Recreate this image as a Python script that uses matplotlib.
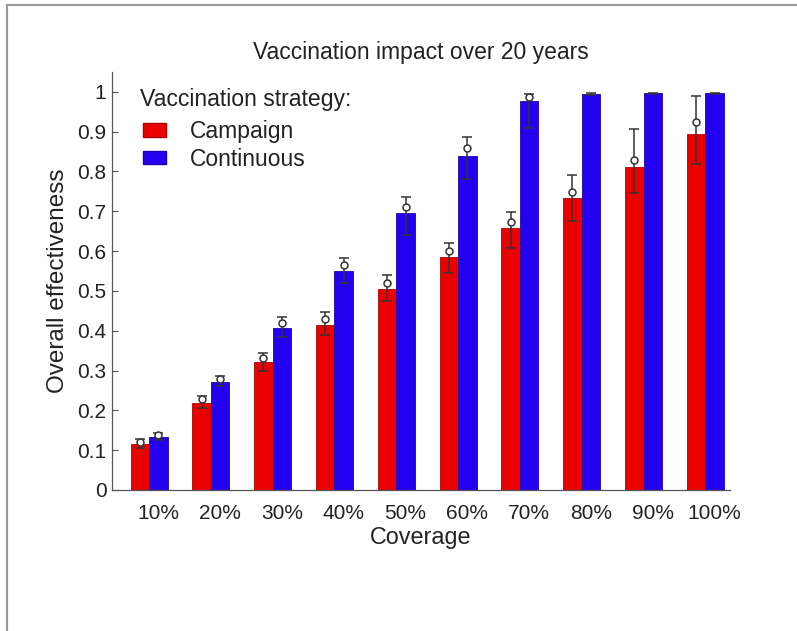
import numpy as np
import matplotlib
matplotlib.use("Agg")
import matplotlib.pyplot as plt
from matplotlib.patches import Patch
from matplotlib.lines import Line2D

plt.rcParams['font.family'] = ['Liberation Sans', 'DejaVu Sans']

# coverage levels
coverage = ['10%', '20%', '30%', '40%', '50%', '60%', '70%', '80%', '90%', '100%']

# campaign strategy: bar height, marker (circle) value, error range
campaign = [0.116, 0.219, 0.322, 0.415, 0.505, 0.585, 0.658, 0.733, 0.811, 0.894]
campaign_mark = [0.120, 0.228, 0.332, 0.430, 0.520, 0.600, 0.672, 0.748, 0.830, 0.925]
campaign_lo = [0.105, 0.205, 0.300, 0.390, 0.475, 0.545, 0.607, 0.675, 0.746, 0.820]
campaign_hi = [0.127, 0.236, 0.345, 0.447, 0.540, 0.620, 0.698, 0.791, 0.907, 0.990]

# continuous strategy (no circle visible once it saturates at 1)
continuous = [0.133, 0.270, 0.407, 0.550, 0.696, 0.839, 0.977, 0.995, 0.996, 0.996]
continuous_mark = [0.137, 0.278, 0.420, 0.565, 0.712, 0.860, 0.987, np.nan, np.nan, np.nan]
continuous_lo = [0.125, 0.262, 0.385, 0.520, 0.640, 0.780, 0.910, 0.993, 0.994, 0.994]
continuous_hi = [0.142, 0.286, 0.435, 0.583, 0.736, 0.887, 0.995, 0.998, 0.998, 0.998]

red = '#ea0000'
blue = '#2400f0'
ink = '#222222'
x = np.arange(1, len(coverage) + 1)
w = 0.3

fig = plt.figure(figsize=(7.97, 6.31), dpi=100)
ax = fig.add_axes([0.1405, 0.2235, 0.7755, 0.6625])

ax.bar(x - w / 2, campaign, w, color=red, edgecolor='#b00000', linewidth=0.6)
ax.bar(x + w / 2, continuous, w, color=blue, edgecolor='#2000b0', linewidth=0.6)

# error bars (drawn from the bar top) plus open circle markers
for xs, bars, mark, lo, hi in [(x - w / 2, campaign, campaign_mark, campaign_lo, campaign_hi),
                               (x + w / 2, continuous, continuous_mark, continuous_lo, continuous_hi)]:
    bars = np.array(bars)
    yerr = [bars - np.array(lo), np.array(hi) - bars]
    ax.errorbar(xs, bars, yerr=yerr, fmt='none', ecolor='#333333',
                elinewidth=1.1, capsize=3.5, capthick=1.1, zorder=3)
    ax.plot(xs, mark, 'o', markersize=5, markerfacecolor='white',
            markeredgecolor='#333333', markeredgewidth=1.1, zorder=4)

ax.set_xlim(0.4, 10.4)
ax.set_ylim(0, 1.05)
ax.set_yticks(np.arange(0, 1.01, 0.1))
ax.set_yticklabels(['0', '0.1', '0.2', '0.3', '0.4', '0.5', '0.6', '0.7', '0.8', '0.9', '1'])
ax.set_xticks(x + 0.15)
ax.set_xticklabels(coverage)
ax.tick_params(axis='y', direction='in', length=4, width=0.8, color='#555555',
               labelsize=15, pad=4, labelcolor=ink)
ax.tick_params(axis='x', length=0, labelsize=15, pad=10, labelcolor=ink)

for s in ['top', 'right']:
    ax.spines[s].set_visible(False)
for s in ['left', 'bottom']:
    ax.spines[s].set_color('#555555')
    ax.spines[s].set_linewidth(0.9)

ax.set_title('Vaccination impact over 20 years', fontsize=16.5, color=ink, pad=9)
ax.set_xlabel('Coverage', fontsize=16.8, color=ink, labelpad=2)
ax.set_ylabel('Overall effectiveness', fontsize=17.5, color=ink, labelpad=6)

# legend heading and entries
ax.text(0.045, 0.933, 'Vaccination strategy:', transform=ax.transAxes,
        fontsize=16.6, color=ink, va='center', ha='left')
handles = [Patch(facecolor=red, edgecolor='#b00000', label='Campaign'),
           Patch(facecolor=blue, edgecolor='#2000b0', label='Continuous')]
leg = ax.legend(handles=handles, loc='upper left', bbox_to_anchor=(0.05, 0.884),
                frameon=False, fontsize=16.5, borderaxespad=0, borderpad=0,
                handlelength=1.0, handleheight=0.55, handletextpad=1.05,
                labelspacing=0.18)
for t in leg.get_texts():
    t.set_color(ink)

# thin gray border at top and left of the image
fig.add_artist(Line2D([0.0085, 1.0], [0.9925, 0.9925], transform=fig.transFigure,
                      color='#999999', linewidth=1.5))
fig.add_artist(Line2D([0.0085, 0.0085], [0.0, 0.9925], transform=fig.transFigure,
                      color='#999999', linewidth=1.5))

fig.savefig('out.png', dpi=100)
